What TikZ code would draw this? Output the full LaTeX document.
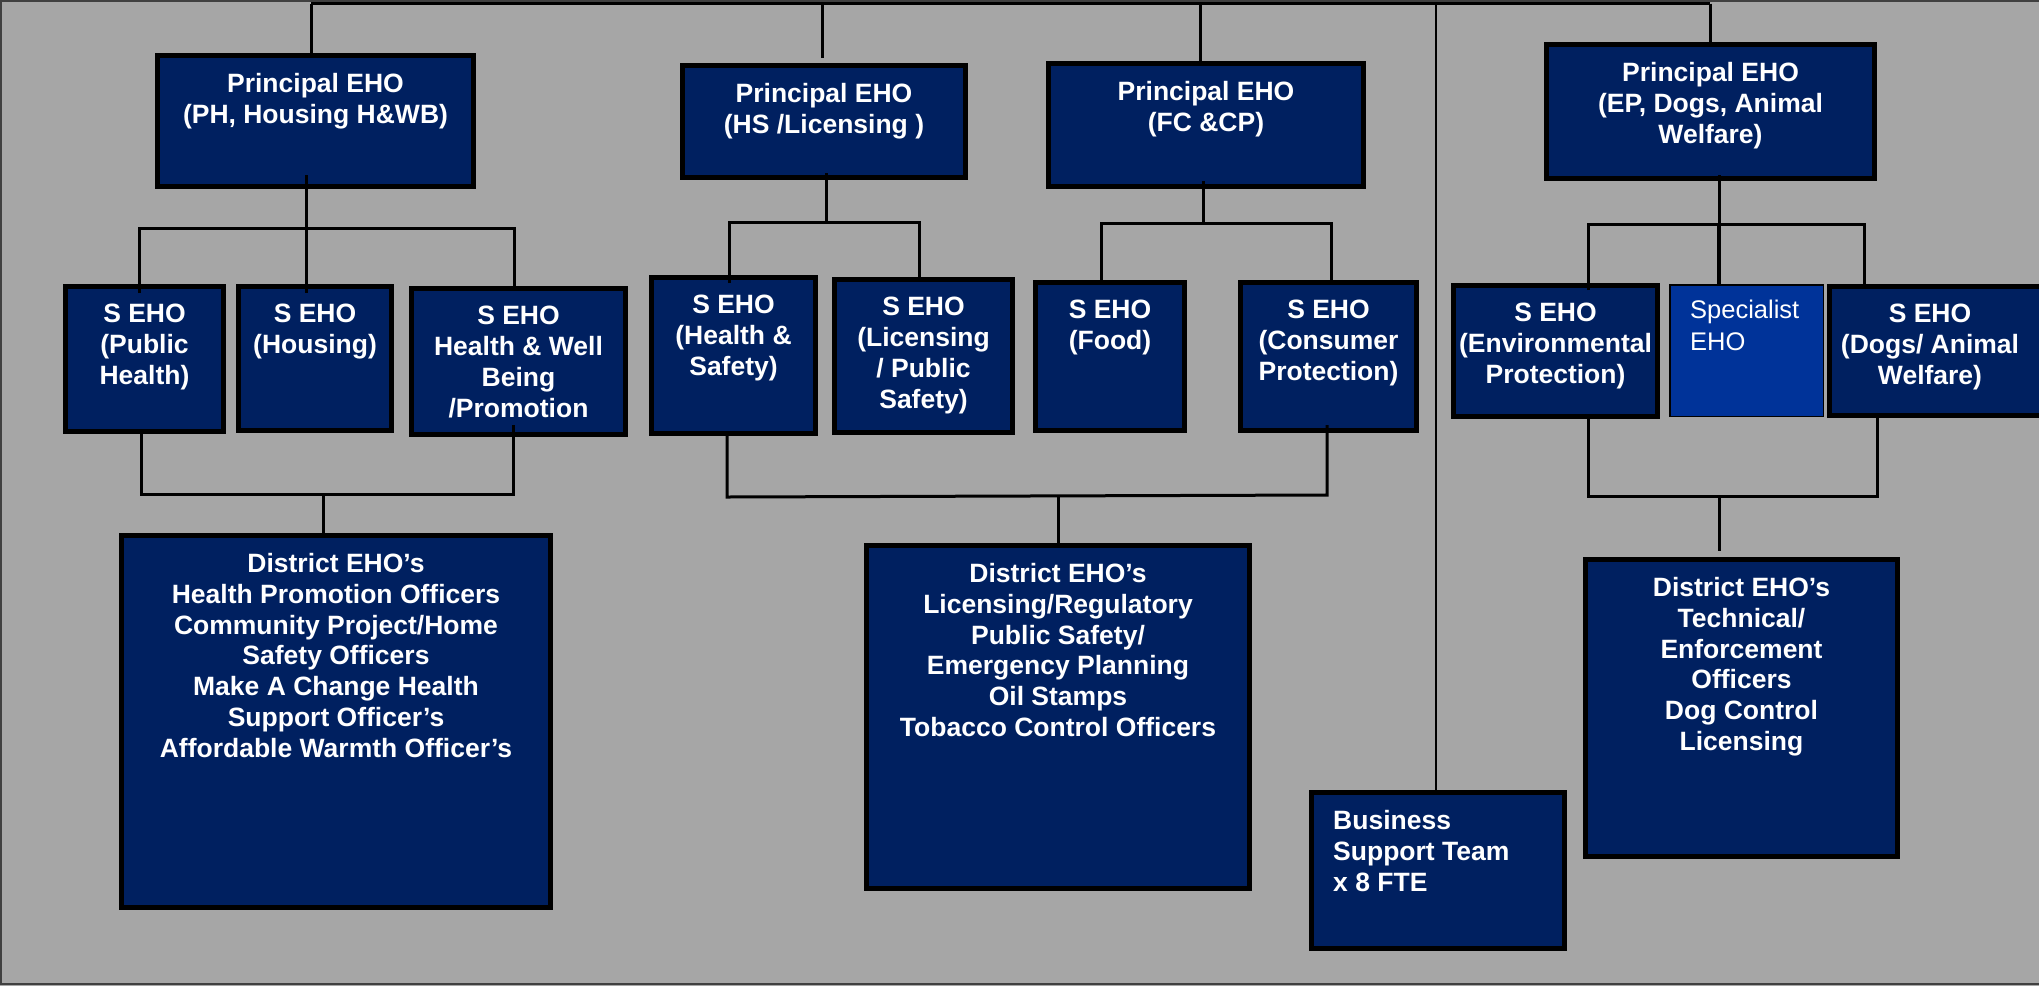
\documentclass[tikz,border=0pt]{standalone}
\usepackage{fontspec}
\setmainfont{Liberation Sans}
\definecolor{bggray}{HTML}{A6A6A6}
\definecolor{navy}{HTML}{002060}
\definecolor{specblue}{HTML}{003399}
\definecolor{framecol}{HTML}{404040}
\begin{document}
\begin{tikzpicture}[x=1pt,y=-1pt,
  box/.style={draw=black, fill=navy, line width=5pt, inner sep=0pt},
  specbox/.style={draw=black, fill=specblue, line width=1.5pt, inner sep=0pt},
  txt/.style={text=white, font=\fontsize{26.5}{30.8}\selectfont\bfseries, align=center, inner sep=0pt, anchor=north},
  ltxt/.style={text=white, font=\fontsize{26.5}{30.8}\selectfont\bfseries, align=left, inner sep=0pt, anchor=north west},
  stxt/.style={text=white, font=\fontsize{25.5}{32}\selectfont, align=left, inner sep=0pt, anchor=north west},
  conn/.style={draw=black, line width=3pt},
  frame/.style={draw=framecol, line width=2pt}]
\useasboundingbox (0,0) rectangle (2039,986);
\fill[bggray] (0,0) rectangle (2039,986);
\draw[frame] (1,1) rectangle (2060,984);

% principal boxes
\node[box, minimum width=316pt, minimum height=131pt] (ph) at (315.5,121) {};
\node[box, minimum width=283pt, minimum height=112pt] (hs) at (824,121.5) {};
\node[box, minimum width=315pt, minimum height=123pt] (fc) at (1206,125) {};
\node[box, minimum width=328pt, minimum height=134pt] (ep) at (1710.5,111.5) {};
% senior boxes
\node[box, minimum width=158pt, minimum height=145pt] (s1) at (144.5,359) {};
\node[box, minimum width=153pt, minimum height=144pt] (s2) at (315,358.5) {};
\node[box, minimum width=214pt, minimum height=146pt] (s3) at (518.5,361.5) {};
\node[box, minimum width=164pt, minimum height=156pt] (s4) at (733.5,355.5) {};
\node[box, minimum width=178pt, minimum height=153pt] (s5) at (923.5,356) {};
\node[box, minimum width=149pt, minimum height=148pt] (s6) at (1110,356.5) {};
\node[box, minimum width=176pt, minimum height=148pt] (s7) at (1328.5,356.5) {};
\node[box, minimum width=204pt, minimum height=131pt] (s8) at (1555.5,351) {};
\node[specbox, minimum width=153.5pt, minimum height=131.5pt] (s9) at (1746.5,350.5) {};
\node[box, minimum width=213pt, minimum height=129pt] (s10) at (1936,351) {};
% district boxes
\node[box, minimum width=429pt, minimum height=372pt] (d1) at (336,721.5) {};
\node[box, minimum width=383pt, minimum height=343pt] (d2) at (1058,717) {};
\node[box, minimum width=253pt, minimum height=156pt] (bs) at (1438,870.5) {};
\node[box, minimum width=312pt, minimum height=297pt] (d3) at (1741.5,708) {};

% texts
\node[txt] (tph) at (315.5,73) {Principal EHO\\(PH, Housing H\&WB)};
\node[txt] (ths) at (824,83) {Principal EHO\\(HS /Licensing )};
\node[txt] (tfc) at (1206,81) {Principal EHO\\(FC \&CP)};
\node[txt] (tep) at (1710.5,62) {Principal EHO\\(EP, Dogs, Animal\\Welfare)};
\node[txt] (ts1) at (144.5,304) {S EHO\\(Public\\Health)};
\node[txt] (ts2) at (315,304) {S EHO\\(Housing)};
\node[txt] (ts3) at (518.5,306) {S EHO\\Health \& Well\\Being\\/Promotion};
\node[txt] (ts4) at (733.5,295) {S EHO\\(Health \&\\Safety)};
\node[txt] (ts5) at (923.5,297) {S EHO\\(Licensing\\/ Public\\Safety)};
\node[txt] (ts6) at (1110,300) {S EHO\\(Food)};
\node[txt] (ts7) at (1328.5,300) {S EHO\\(Consumer\\Protection)};
\node[txt] (ts8) at (1555.5,303) {S EHO\\(Environmental\\Protection)};
\node[stxt] (ts9) at (1690,300) {Specialist\\EHO};
\node[txt] (ts10) at (1930,304) {S EHO\\(Dogs/ Animal\\Welfare)};
\node[txt] (td1) at (336,553) {District EHO’s\\Health Promotion Officers\\Community Project/Home\\Safety Officers\\Make A Change Health\\Support Officer’s\\Affordable Warmth Officer’s};
\node[txt] (td2) at (1058,563) {District EHO’s\\Licensing/Regulatory\\Public Safety/\\Emergency Planning\\Oil Stamps\\Tobacco Control Officers};
\node[ltxt] (tbs) at (1333,810.5) {Business\\Support Team\\x 8 FTE};
\node[txt] (td3) at (1741.5,577) {District EHO’s\\Technical/\\Enforcement\\Officers\\Dog Control\\Licensing};

% top line and drops
\coordinate (t1) at (311,3.5);
\coordinate (t2) at (822,3.5);
\coordinate (t3) at (1200,3.5);
\coordinate (t4) at (1710,3.5);
\coordinate (tb) at (1436,3.5);
\draw[conn] (t1) -- (t4);
\draw[conn] (t1) -- (t1 |- ph.north);
\draw[conn] (t2) -- ([yshift=5pt]t2 |- hs.north);
\draw[conn] (t3) -- (t3 |- fc.north);
\draw[conn] (t4) -- (t4 |- ep.north);
\draw[draw=black, line width=2.5pt] (tb) -- (tb |- bs.north);

% PH subtree
\coordinate (pA) at (306,228);
\coordinate (pL) at (139,228);
\coordinate (pR) at (514,228);
\draw[conn] ([yshift=14pt]pA |- ph.south) -- ([yshift=-9pt]pA |- s2.north);
\draw[conn] ([yshift=-9pt]pL |- s1.north) -- (pL) -- (pR) -- (pR |- s3.north);
\coordinate (qL) at (141,494);
\coordinate (qR) at (513,494);
\coordinate (qM) at (323,494);
\draw[conn] (qL |- s1.south) -- (qL) -- (qR) -- ([yshift=12pt]qR |- s3.south);
\draw[conn] (qM) -- (qM |- d1.north);

% HS subtree
\coordinate (hA) at (826,222);
\coordinate (hL) at (729,222);
\coordinate (hR) at (919,222);
\draw[conn] ([yshift=7pt]hA |- hs.south) -- (hA);
\draw[conn] ([yshift=-8pt]hL |- s4.north) -- (hL) -- (hR) -- (hR |- s5.north);
\coordinate (kL) at (727,497);
\coordinate (kR) at (1327,495);
\coordinate (kM) at (1058,495);
\draw[conn] ([yshift=5pt]kL |- s4.south) -- (kL) -- (kR) -- ([yshift=8pt]kR |- s7.south);
\draw[conn] (kM) -- (kM |- d2.north);

% FC subtree
\coordinate (fA) at (1203,222);
\coordinate (fL) at (1101,223);
\coordinate (fR) at (1331,223);
\draw[conn] ([yshift=8pt]fA |- fc.south) -- (fA);
\draw[conn] (fL |- s6.north) -- (fL) -- (fR) -- (fR |- s7.north);

% EP subtree
\coordinate (eA) at (1719,224);
\coordinate (eL) at (1588,224);
\coordinate (eR) at (1864,224);
\draw[conn] ([yshift=6pt]eA |- ep.south) -- (eA);
\draw[draw=black, line width=4.5pt] (eA) -- (eA |- s9.north);
\draw[conn] ([yshift=-7pt]eL |- s8.north) -- (eL) -- (eR) -- (eR |- s10.north);
\coordinate (gL) at (1588,496);
\coordinate (gR) at (1877,496);
\coordinate (gM) at (1719,497);
\draw[conn] (gL |- s8.south) -- (gL) -- (gR) -- (gR |- s10.south);
\draw[conn] (gM) -- ([yshift=6pt]gM |- d3.north);
\end{tikzpicture}
\end{document}
